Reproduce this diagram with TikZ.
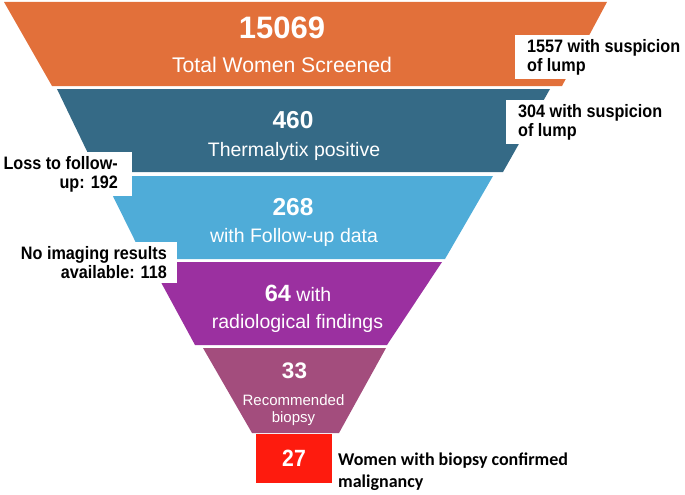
\documentclass[tikz,border=0pt]{standalone}
\usepackage{fontspec}
\setmainfont{Liberation Sans}
\newfontfamily\calfont{Carlito}
\newfontfamily\narrowfont[FakeStretch=0.9]{Liberation Sans}

\definecolor{screenOrange}{HTML}{E2703A}
\definecolor{thermTeal}{HTML}{356A86}
\definecolor{followBlue}{HTML}{4FACD8}
\definecolor{radioPurple}{HTML}{9B30A0}
\definecolor{biopsyMauve}{HTML}{A34D7D}
\definecolor{malignRed}{HTML}{FE1B0E}

\begin{document}
\begin{tikzpicture}[x=1pt, y=-1pt,
  num/.style={text=white, anchor=base, inner sep=0pt, font=\bfseries\fontsize{#1}{#1}\selectfont},
  lbl/.style={text=white, anchor=base, inner sep=0pt, font=\fontsize{19.5}{23}\selectfont},
  side/.style={fill=white, inner xsep=12pt, inner ysep=4pt, font=\narrowfont\bfseries\fontsize{18}{19.5}\selectfont}]
  \useasboundingbox (0,0) rectangle (685,495);
  % funnel bands
  \fill[screenOrange] (4,2) -- (607,2) -- (562,86) -- (52,86) -- cycle;
  \fill[thermTeal] (57,89) -- (550,89) -- (503,172) -- (97,172) -- cycle;
  \fill[followBlue] (103,176) -- (493,176) -- (445,259) -- (144,259) -- cycle;
  \fill[radioPurple] (150,262) -- (442,262) -- (387,345) -- (195,345) -- cycle;
  \fill[biopsyMauve] (203,348) -- (386,348) -- (339,433) -- (252,433) -- cycle;
  \node[fill=malignRed, text=white, minimum width=76pt, minimum height=49pt, inner sep=0pt,
    font=\narrowfont\bfseries\fontsize{23.5}{23.5}\selectfont] (n27) at (294,458.5) {27};
  % counts
  \node[num=31] (n15069) at (282,38) {15069};
  \node[lbl, font=\fontsize{21.2}{24}\selectfont] (screened) at (282,72) {Total Women Screened};
  \node[num=24.5] (n460) at (293,128) {460};
  \node[lbl] (thermal) at (294,156) {Thermalytix positive};
  \node[num=24.5] (n268) at (293,215) {268};
  \node[lbl] (followup) at (294,242) {with Follow-up data};
  \node[lbl] (radio) at (298,301) {{\bfseries\fontsize{23.5}{23.5}\selectfont 64} with};
  \node[lbl] (findings) at (297.5,328) {radiological findings};
  \node[num=22.5] (n33) at (294.5,378) {33};
  \node[text=white, anchor=north, inner sep=0pt, align=center, font=\fontsize{15}{17}\selectfont]
    (recommend) at (293.5,394) {Recommended\\biopsy};
  % side notes
  \node[side, anchor=north west, align=left] (lump1) at (515,35) {1557 with suspicion\\of lump};
  \node[side, anchor=north west, align=left] (lump2) at (506,100) {304 with suspicion\\of lump};
  \node[side, anchor=north east, align=right, inner xsep=14pt] (lost) at (132,152) {Loss to follow-\\up: 192};
  \node[side, anchor=north east, align=right, inner xsep=10pt] (noimg) at (177,242) {No imaging results\\available: 118};
  \node[anchor=north west, inner sep=0pt, align=left, font=\calfont\bfseries\fontsize{18}{22}\selectfont]
    (outcome) at (338,452.5) {Women with biopsy confirmed\\malignancy};
\end{tikzpicture}
\end{document}
